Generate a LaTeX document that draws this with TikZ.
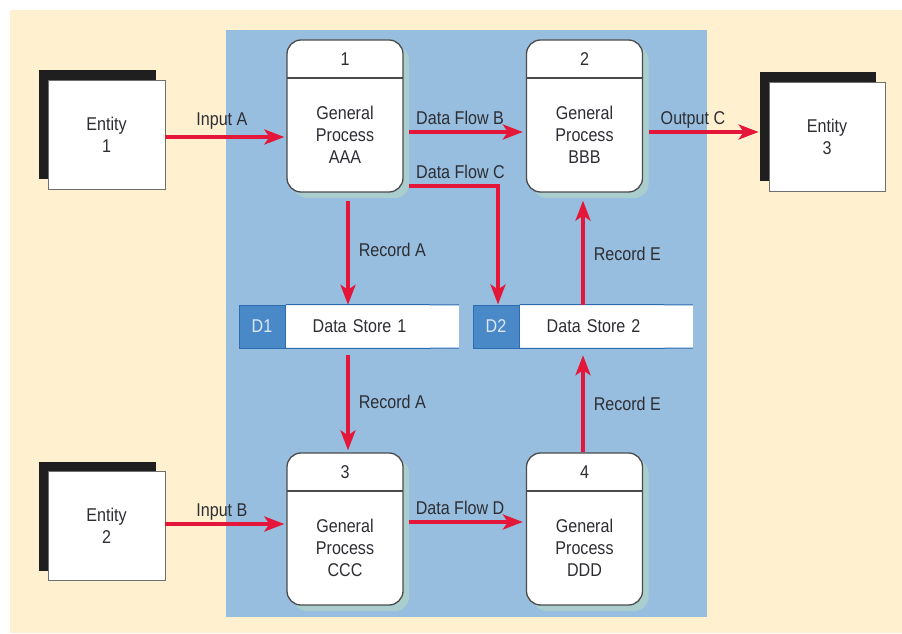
\documentclass[tikz,border=0pt]{standalone}
\usepackage{fontspec}
\setmainfont{Liberation Sans}[FakeStretch=0.87]
\usetikzlibrary{positioning,arrows.meta,calc,shadows}
\definecolor{cream}{RGB}{255,241,208}
\definecolor{panel}{RGB}{151,190,222}
\definecolor{flowred}{RGB}{228,23,59}
\definecolor{txtgray}{RGB}{45,45,52}
\definecolor{edgegray}{RGB}{75,75,75}
\definecolor{storeblue}{RGB}{44,108,176}
\definecolor{idblue}{RGB}{74,137,200}
\definecolor{idtext}{RGB}{221,232,243}
\definecolor{glow}{RGB}{170,206,206}
\tikzset{every node/.style={font=\fontsize{18.5}{22}\selectfont, text=txtgray},
  proc/.style n args={2}{draw=edgegray, line width=1.3pt, fill=white, rounded corners=14pt,
    minimum width=116pt, minimum height=152pt, inner sep=0pt,
    drop shadow={shadow xshift=6pt, shadow yshift=-6pt, fill=glow, opacity=1},
    path picture={
        \draw[edgegray, line width=1.1pt]
            ($(path picture bounding box.north west)+(0,-38pt)$) -- ($(path picture bounding box.north east)+(0,-38pt)$);
        \node at ($(path picture bounding box.north)+(0,-19pt)$) {#1};
        \node[align=center] at ($(path picture bounding box.center)+(0,-19pt)$) {#2};
        }
    },
  entity/.style={draw=edgegray!80, line width=0.8pt, fill=white, align=center,
    minimum width=117pt, minimum height=109pt,
    drop shadow={shadow xshift=-9pt, shadow yshift=10pt, fill=black!88, opacity=1}},
  dsid/.style={draw=storeblue, line width=1pt, fill=idblue, text=idtext,
    minimum width=46pt, minimum height=43pt, inner sep=0pt},
  dsname/.style={fill=white, minimum height=43pt, inner xsep=27pt, inner ysep=0pt,
    text width=119pt, align=left},
  flow/.style={->, draw=flowred, line width=3.5pt},
  lbl/.style={inner sep=1pt, text depth=0.25em}
}
\begin{document}
\begin{tikzpicture}[x=1pt, y=1pt, >={Stealth[length=20pt,width=15pt,inset=5pt]}]
	\useasboundingbox (0,0) rectangle (902,633);
	\fill[cream] (10,0) rectangle (902,623);
	\fill[panel] (226,16) rectangle (707,603);
	% processes
	\node[proc={1}{General\\Process\\AAA}] (P1) at (345,517) {};
	\node[proc={2}{General\\Process\\BBB}] (P2) at (584.5,517) {};
	\node[proc={3}{General\\Process\\CCC}] (P3) at (345,104) {};
	\node[proc={4}{General\\Process\\DDD}] (P4) at (584.5,104) {};
	% entities
	\node[entity] (E1) at (106.5,498.5) {Entity\\1};
	\node[entity] (E2) at (106.5,107) {Entity\\2};
	\node[entity, minimum width=116pt] (E3) at (827,496.5) {Entity\\3};
	% data stores
	\node[dsid] (D1) at (262,306.5) {D1};
	\node[dsname, right=0pt of D1] (DS1) {Data Store 1};
	\node[dsid] (D2) at (496,306.5) {D2};
	\node[dsname, right=0pt of D2] (DS2) {Data Store 2};
	\draw[storeblue, line width=1pt] (D1.north east) -- (DS1.north east) (D1.south east) -- (DS1.south east);
	\draw[storeblue, line width=1pt] (D2.north east) -- (DS2.north east) (D2.south east) -- (DS2.south east);
	% flows
	\draw [flow] ($(E1.east)+(0,-2.5)$) -- node[lbl,above=2.5pt,pos=0.475,yshift=4pt]{Input A} ($(P1.west |- E1.east)+(-2,-2.5)$);
	\draw [flow] ($(P1.east)+(5,-16)$) -- node[lbl,above=2.5pt,pos=0.45]{Data Flow B} ($(P2.west)+(-3,-16)$);
	\draw [flow] ($(P2.east)+(6,-16)$) -- node[lbl,above=2.5pt,pos=0.4]{Output C} ($(E3.west |- P2.east)+(-10,-16)$);
	\draw [flow] ($(P1.east)+(5,-70)$) -| node[lbl,above=2.5pt,pos=0.29]{Data Flow C} ($(D2.north)+(2,0)$);
	\draw [flow] ($(P1.south)+(3,-8)$) -- node[lbl,right=8pt,pos=0.48]{Record A} ($(P1.south |- DS1.north)+(3,0)$);
	\draw [flow] ($(P2.south |- DS2.north)+(-1.5,0)$) -- node[lbl,right=8pt,pos=0.48]{Record E} ($(P2.south)+(-1.5,-8)$);
	\draw [flow] ($(P3.north |- DS1.south)+(3,-7)$) -- node[lbl,right=8pt,pos=0.5]{Record A} ($(P3.north)+(3,2)$);
	\draw [flow] ($(P4.north)+(-1.5,0)$) -- node[lbl,right=8pt,pos=0.49]{Record E} ($(P4.north |- DS2.south)+(-1.5,-7)$);
	\draw [flow] ($(E2.east)+(0,2)$) -- node[lbl,above=2.5pt,pos=0.475]{Input B} ($(P3.west |- E2.east)+(-2,2)$);
	\draw [flow] ($(P3.east)+(5,7)$) -- node[lbl,above=2.5pt,pos=0.45]{Data Flow D} ($(P4.west)+(-3,7)$);
\end{tikzpicture}
\end{document}
